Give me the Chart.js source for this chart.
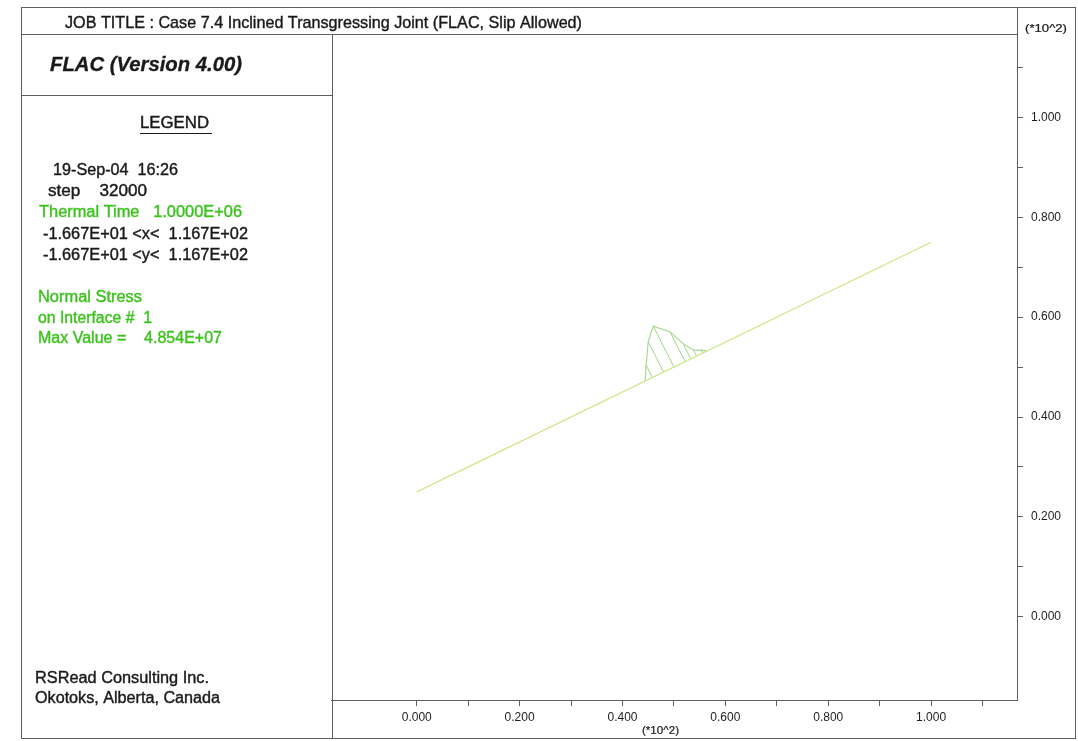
<!DOCTYPE html>
<html>
<head>
<meta charset="utf-8">
<script src="https://cdn.jsdelivr.net/npm/chart.js@4/dist/chart.umd.min.js"></script>
<style>
  html, body { margin: 0; padding: 0; background: #fff; }
</style>
</head>
<body>
<canvas id="flac-plot" width="1078" height="741"></canvas>
<script>
// interface (joint) end points, model units (m)
const jointX = [0, 100];
const jointY = [25, 75];

// normal stress envelope plotted off the interface
const stressX = [44.4, 44.6, 45.0, 46.0, 49.2, 51.8, 53.8, 55.4, 56.4];
const stressY = [47.2, 50.4, 55.1, 58.2, 57.1, 54.7, 53.4, 53.4, 53.2];

// hatching: envelope point -> interface node
const hatchTopX = [44.6, 45.0, 46.0, 49.2, 51.8, 53.8, 55.4];
const hatchTopY = [50.4, 55.1, 58.2, 57.1, 54.7, 53.4, 53.4];
const hatchBaseX = [45.8, 48.0, 50.0, 52.2, 53.3, 54.4, 55.6];
const hatchBaseY = [47.9, 49.0, 50.0, 51.1, 51.6, 52.2, 52.8];

// axis ticks (every 10 m) and their labels in units of 10^2
const tickValues = [0, 10, 20, 30, 40, 50, 60, 70, 80, 90, 100, 110];
const tickLabels = ["0.000", "", "0.200", "", "0.400", "", "0.600", "", "0.800", "", "1.000", ""];
const axisMin = -16.67;
const axisMax = 116.7;

const jobTitle = "JOB TITLE : Case 7.4 Inclined Transgressing Joint (FLAC, Slip Allowed)";
const versionText = "FLAC (Version 4.00)";
const legendHeading = "LEGEND";
const black = "#1a1a1a";
const green = "#3cc21e";
const frameColor = "#5e5e5e";
const FONT = "'Liberation Sans', Arial, sans-serif";

// left panel text: [text, x, y, width, colour]
const legendLines = [
  ["19-Sep-04  16:26", 53, 171, 125, black],
  ["step    32000", 48, 192, 99, black],
  ["Thermal Time   1.0000E+06", 39, 213, 203, green],
  ["-1.667E+01 <x<  1.167E+02", 43, 235, 205, black],
  ["-1.667E+01 <y<  1.167E+02", 43, 256, 205, black],
  ["Normal Stress", 38, 298, 104, green],
  ["on Interface #  1", 38, 319, 114, green],
  ["Max Value =    4.854E+07", 38, 339, 184, green],
];
const companyLines = [
  ["RSRead Consulting Inc.", 35, 679, 174, black],
  ["Okotoks, Alberta, Canada", 35, 699, 185, black],
];

function toPoints(xs, ys) {
  return xs.map((x, i) => ({ x: x, y: ys[i] }));
}

// draw text squeezed to a given width, with a light stroke so it reads like print
function fitText(ctx, text, x, y, width, font, color, weight) {
  ctx.save();
  ctx.font = font;
  ctx.fillStyle = color;
  ctx.strokeStyle = color;
  ctx.textBaseline = "middle";
  ctx.textAlign = "left";
  const w = ctx.measureText(text).width;
  ctx.translate(x, y);
  ctx.scale(width / w, 1);
  ctx.fillText(text, 0, 0);
  if (weight) {
    ctx.lineWidth = weight;
    ctx.strokeText(text, 0, 0);
  }
  ctx.restore();
}

function line(ctx, x1, y1, x2, y2) {
  ctx.beginPath();
  ctx.moveTo(x1, y1);
  ctx.lineTo(x2, y2);
  ctx.stroke();
}

const framePlugin = {
  id: "framePlugin",
  beforeDraw(chart) {
    const ctx = chart.ctx;
    ctx.save();
    ctx.fillStyle = "#fff";
    ctx.fillRect(0, 0, chart.width, chart.height);
    ctx.restore();
  },
  afterDraw(chart) {
    const ctx = chart.ctx;
    const area = chart.chartArea;
    ctx.save();
    ctx.strokeStyle = frameColor;
    ctx.lineWidth = 1;
    ctx.strokeRect(21.5, 7.5, 1054, 731);
    line(ctx, 21, 34.5, area.right, 34.5);
    line(ctx, area.right + 0.5, 7, area.right + 0.5, area.bottom);
    line(ctx, 332.5, 34, 332.5, 738);
    line(ctx, 21, 95.5, 333, 95.5);
    ctx.restore();

    fitText(ctx, jobTitle, 65, 23, 517, "17px " + FONT, black, 0.4);
    fitText(ctx, versionText, 50, 65, 192, "italic bold 20px " + FONT, black, 0.3);
    fitText(ctx, legendHeading, 140, 124, 69, "16px " + FONT, black, 0.4);
    ctx.save();
    ctx.strokeStyle = black;
    ctx.lineWidth = 1.2;
    line(ctx, 140, 133.5, 212, 133.5);
    ctx.restore();

    legendLines.concat(companyLines).forEach(([t, x, y, w, c]) => {
      fitText(ctx, t, x, y, w, "16px " + FONT, c, 0.4);
    });

    fitText(ctx, "(*10^2)", 1025, 29, 42, "10px " + FONT, black, 0.2);
    fitText(ctx, "(*10^2)", 642, 731, 37, "10px " + FONT, black, 0.2);
  },
};

const hatchSets = hatchTopX.map((x, i) => ({
  data: toPoints([x, hatchBaseX[i]], [hatchTopY[i], hatchBaseY[i]]),
  borderColor: "#9fd88a",
  borderWidth: 1,
  showLine: true,
  pointRadius: 0,
}));

function axisOptions(position) {
  return {
    type: "linear",
    position: position,
    min: axisMin,
    max: axisMax,
    afterBuildTicks: (scale) => {
      scale.ticks = tickValues.map((v) => ({ value: v }));
    },
    afterFit: (scale) => {
      if (position === "right") scale.width = 58;
      else scale.height = 38;
    },
    ticks: {
      autoSkip: false,
      maxRotation: 0,
      padding: position === "right" ? 8 : 4,
      color: "#1e1e1e",
      font: { family: FONT, size: 12 },
      callback: (value, index) => tickLabels[index],
    },
    grid: {
      drawOnChartArea: false,
      drawTicks: true,
      tickLength: 6,
      color: frameColor,
    },
    border: { display: true, color: frameColor, width: 1 },
  };
}

new Chart(document.getElementById("flac-plot"), {
  type: "scatter",
  data: {
    datasets: [
      {
        data: toPoints(jointX, jointY),
        borderColor: "#cfe68a",
        borderWidth: 1.3,
        showLine: true,
        pointRadius: 0,
      },
      {
        data: toPoints(stressX, stressY),
        borderColor: "#9fd88a",
        borderWidth: 1.1,
        showLine: true,
        pointRadius: 0,
      },
    ].concat(hatchSets),
  },
  options: {
    responsive: false,
    animation: false,
    devicePixelRatio: 1,
    layout: { padding: { left: 331, top: 34, right: 3, bottom: 3 } },
    plugins: {
      legend: { display: false },
      tooltip: { enabled: false },
    },
    scales: {
      x: axisOptions("bottom"),
      y: axisOptions("right"),
    },
  },
  plugins: [framePlugin],
});
</script>
</body>
</html>
